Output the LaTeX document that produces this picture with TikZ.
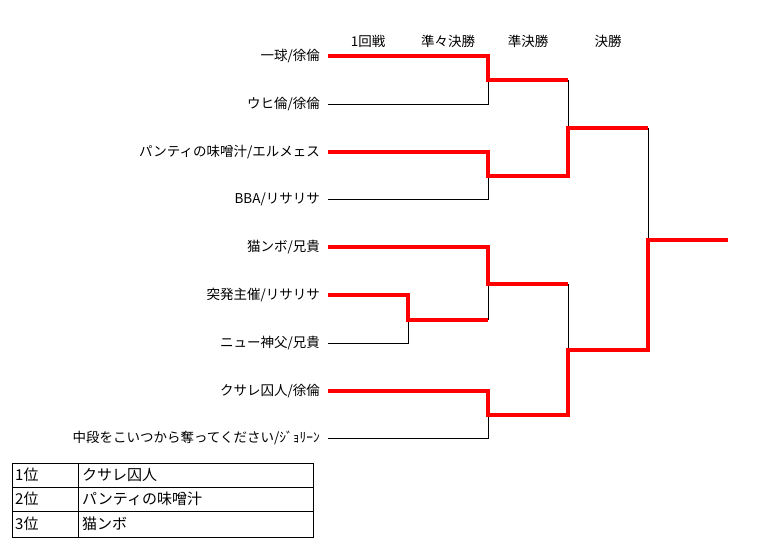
\documentclass[tikz,border=0pt]{standalone}
\usepackage{fontspec}
\setmainfont{Noto Sans CJK JP}
\begin{document}
\begin{tikzpicture}[x=1pt,y=-1pt,
                    font=\fontsize{13.5}{15}\selectfont,
                    ]
    \tikzstyle{entry}=[anchor=east,inner sep=0pt]
    \tikzstyle{head}=[inner sep=0pt]
    \tikzstyle{rank}=[anchor=west,inner sep=0pt,font=\fontsize{15}{17}\selectfont]
    \tikzstyle{lose}=[draw=black,line width=0.9pt]
    \tikzstyle{win}=[draw=red,line width=3.2pt,line join=miter]

    \useasboundingbox (0,0) rectangle (760,551);

    % round headers
    \node[head] (h1) at (368,41) {1回戦};
    \node[head] (h2) at (448,41) {準々決勝};
    \node[head] (h3) at (528,41) {準決勝};
    \node[head] (h4) at (608,41) {決勝};

    % entries
    \node[entry] (e1) at (320,56)  {一球/徐倫};
    \node[entry] (e2) at (320,104) {ウヒ倫/徐倫};
    \node[entry] (e3) at (320,152) {パンティの味噌汁/エルメェス};
    \node[entry] (e4) at (320,199) {BBA/リサリサ};
    \node[entry] (e5) at (320,247) {猫ンボ/兄貴};
    \node[entry] (e6) at (320,295) {突発主催/リサリサ};
    \node[entry] (e7) at (320,343) {ニュー神父/兄貴};
    \node[entry] (e8) at (320,391) {クサレ囚人/徐倫};
    \node[entry] (e9) at (320,438) {中段をこいつから奪ってください/ｼﾞｮﾘｰﾝ};

    % joints
    \coordinate (q1) at (488,80);
    \coordinate (q2) at (488,176);
    \coordinate (p0) at (408,320);
    \coordinate (q3) at (488,284);
    \coordinate (q4) at (488,415);
    \coordinate (s1) at (568,128);
    \coordinate (s2) at (568,350);
    \coordinate (f)  at (648,240);
    \coordinate (champ) at (728,240);

    % losers
    \path[lose] ([xshift=8]e2.east) -| (q1);
    \path[lose] ([xshift=8]e4.east) -| (q2);
    \path[lose] ([xshift=8]e7.east) -| (p0);
    \path[lose] (q3) -- (488,320);
    \path[lose] ([xshift=8]e9.east) -| (q4);
    \path[lose] (568,80) -- (s1);
    \path[lose] (568,284) -- (s2);
    \path[lose] (648,128) -- (f);

    % winners
    \path[win] ([xshift=8]e1.east) -| (q1) -- (568,80);
    \path[win] ([xshift=8]e3.east) -| (q2) -- (568,176) -- (s1) -- (648,128);
    \path[win] ([xshift=8]e5.east) -| (q3) -- (568,284);
    \path[win] ([xshift=8]e6.east) -| (p0) -- (488,320);
    \path[win] ([xshift=8]e8.east) -| (q4) -- (568,415) -- (s2) -- (648,350) -- (f) -- (champ);

    % ranking
    \draw[lose] (12,463) rectangle (313,537);
    \draw[lose] (12,487) -- (313,487) (12,511) -- (313,511) (78,463) -- (78,537);
    \node[rank] (r1) at (15,475) {1位};
    \node[rank] (r2) at (15,499) {2位};
    \node[rank] (r3) at (15,524) {3位};
    \node[rank] (n1) at (82,475) {クサレ囚人};
    \node[rank] (n2) at (82,499) {パンティの味噌汁};
    \node[rank] (n3) at (82,524) {猫ンボ};
\end{tikzpicture}
\end{document}
